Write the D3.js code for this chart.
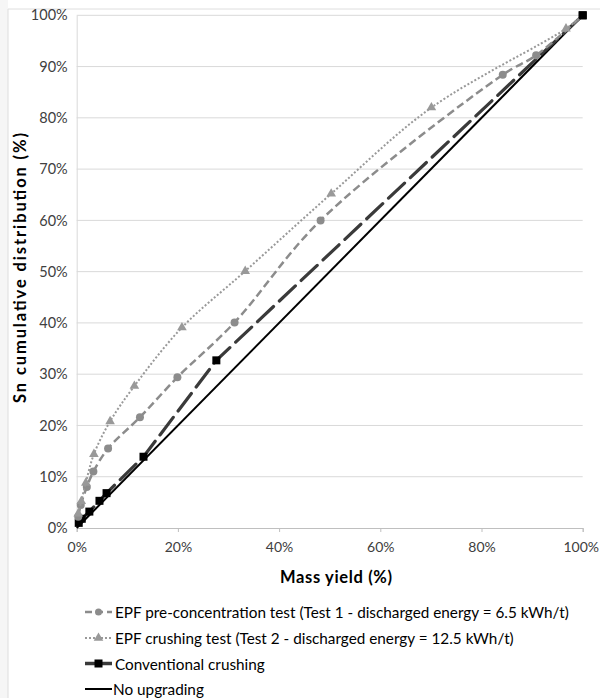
<!DOCTYPE html>
<html><head><meta charset="utf-8">
<script src="https://cdn.jsdelivr.net/npm/d3@7"></script>
<style>html,body{margin:0;padding:0;background:#fff;}svg{display:block;}</style>
</head><body>
<svg id="chart" width="600" height="698"></svg>
<script>
// ---- data (mass yield %, Sn cumulative distribution %) ----
const xTicks = [0, 20, 40, 60, 80, 100];
const yTicks = [0, 10, 20, 30, 40, 50, 60, 70, 80, 90, 100];
const preConcX = [0.3, 0.8, 2.0, 3.3, 6.2, 12.5, 19.9, 31.2, 48.2, 84.2, 90.8, 100];
const preConcY = [2.2, 4.5, 8.0, 11.0, 15.5, 21.6, 29.4, 40.1, 60.0, 88.4, 92.2, 100];
const crushX = [0.3, 0.9, 1.8, 3.4, 6.6, 11.4, 20.8, 33.3, 50.3, 70.1, 96.7, 100];
const crushY = [2.8, 5.2, 8.8, 14.4, 20.8, 27.7, 39.1, 50.1, 65.2, 82.0, 97.4, 100];
const convX = [0.4, 1.0, 2.5, 4.5, 5.9, 13.2, 27.6, 100];
const convY = [1.0, 1.8, 3.2, 5.3, 6.8, 13.9, 32.7, 100];
const noUpX = [0, 100];
const noUpY = [0, 100];
const seriesNames = [
  "EPF pre-concentration test (Test 1 - discharged energy = 6.5 kWh/t)",
  "EPF crushing test (Test 2 - discharged energy = 12.5 kWh/t)",
  "Conventional crushing",
  "No upgrading"
];
const xTitle = "Mass yield (%)";
const yTitle = "Sn cumulative distribution (%)";

const svg = d3.select("#chart");
const font = "Lato, 'Open Sans', sans-serif";
const pL = 76.7, pR = 582.7, pT = 15.3, pB = 528;
const x = d3.scaleLinear().domain([0, 100]).range([pL, pR]);
const y = d3.scaleLinear().domain([0, 100]).range([pB, pT]);

// frame
svg.append("rect").attr("x",0).attr("y",0).attr("width",600).attr("height",698).attr("fill","#fff");
svg.append("rect").attr("x",0).attr("y",0).attr("width",8).attr("height",698).attr("fill","#f6f6f6");
svg.append("line").attr("x1",8).attr("x2",8).attr("y1",9).attr("y2",698).attr("stroke","#dedede");
svg.append("line").attr("x1",8).attr("x2",600).attr("y1",9).attr("y2",9).attr("stroke","#dedede");

// gridlines
svg.append("g").selectAll("line").data(yTicks.filter(d=>d>0)).join("line")
  .attr("x1", pL).attr("x2", pR).attr("y1", d=>y(d)).attr("y2", d=>y(d))
  .attr("stroke", "#d9d9d9").attr("stroke-width", 1);

// axes
const xAxis = svg.append("g").attr("transform", `translate(0,${pB})`)
  .call(d3.axisBottom(x).tickValues(xTicks).tickSize(4).tickFormat(d=>d+"%"));
xAxis.select(".domain").attr("stroke","#bfbfbf");
xAxis.selectAll(".tick line").attr("stroke","#bfbfbf");
xAxis.selectAll("text").attr("font-family",font).attr("font-size",14).attr("fill","#404040").attr("dy","1.2em")
  .attr("dx", d => d === 100 ? -2 : 0);

const yAxis = svg.append("g").attr("transform", `translate(${pL},0)`)
  .call(d3.axisLeft(y).tickValues(yTicks).tickSize(0).tickPadding(9).tickFormat(d=>d+"%"));
yAxis.select(".domain").attr("stroke","#d9d9d9");
yAxis.selectAll("text").attr("font-family",font).attr("font-size",14.5).attr("fill","#404040");

// titles
svg.append("text").attr("x", 336).attr("y", 577).attr("text-anchor","middle").attr("dominant-baseline","central")
  .attr("font-family",font).attr("font-weight","bold").attr("font-size",16.5).attr("fill","#000")
  .attr("textLength",112).attr("lengthAdjust","spacing").text(xTitle);
svg.append("text").attr("transform", `translate(20,268) rotate(-90)`).attr("text-anchor","middle")
  .attr("dominant-baseline","central").attr("font-family",font).attr("font-weight","bold").attr("font-size",16.5)
  .attr("textLength",270).attr("lengthAdjust","spacing")
  .attr("fill","#000").text(yTitle);

const zip = (xs, ys) => xs.map((v,i)=>[v, ys[i]]);
const smooth = d3.line().x(d=>x(d[0])).y(d=>y(d[1])).curve(d3.curveCatmullRom.alpha(0.5));
const straight = d3.line().x(d=>x(d[0])).y(d=>y(d[1]));

// No upgrading
svg.append("path").attr("d", straight(zip(noUpX,noUpY))).attr("fill","none").attr("stroke","#000").attr("stroke-width",2);
// Conventional crushing
const conv = zip(convX, convY);
svg.append("path").attr("d", straight(conv)).attr("fill","none").attr("stroke","#3a3a3a").attr("stroke-width",3.2)
  .attr("stroke-dasharray","22,8").attr("stroke-linecap","round");
svg.append("g").selectAll("rect").data(conv).join("rect")
  .attr("x", d=>x(d[0])-4).attr("y", d=>y(d[1])-4).attr("width",8).attr("height",8).attr("fill","#000");
// EPF pre-concentration
const pre = zip(preConcX, preConcY);
svg.append("path").attr("d", smooth(pre)).attr("fill","none").attr("stroke","#8c8c8c").attr("stroke-width",2.5)
  .attr("stroke-dasharray","8,4");
svg.append("g").selectAll("circle").data(pre.slice(0,-1)).join("circle")
  .attr("cx", d=>x(d[0])).attr("cy", d=>y(d[1])).attr("r",4).attr("fill","#8c8c8c");
// EPF crushing
const cr = zip(crushX, crushY);
svg.append("path").attr("d", smooth(cr)).attr("fill","none").attr("stroke","#999").attr("stroke-width",2)
  .attr("stroke-dasharray","2,2");
const tri = d3.symbol().type(d3.symbolTriangle).size(40);
svg.append("g").selectAll("path").data(cr.slice(0,-1)).join("path")
  .attr("transform", d=>`translate(${x(d[0])},${y(d[1])})`).attr("d", tri).attr("fill","#999");
// redraw end square on top
svg.append("rect").attr("x", x(100)-4).attr("y", y(100)-4).attr("width",8).attr("height",8).attr("fill","#000");

// legend
const legY = [612, 638, 663.5, 689];
const lx0 = 85, lx1 = 112, tx = 115;
const lg = svg.append("g");
lg.append("line").attr("x1",lx0).attr("x2",lx1).attr("y1",legY[0]).attr("y2",legY[0]).attr("stroke","#8c8c8c").attr("stroke-width",2.5).attr("stroke-dasharray","7,4");
lg.append("circle").attr("cx",(lx0+lx1)/2).attr("cy",legY[0]).attr("r",3.5).attr("fill","#8c8c8c");
lg.append("line").attr("x1",lx0).attr("x2",lx1).attr("y1",legY[1]).attr("y2",legY[1]).attr("stroke","#999").attr("stroke-width",2).attr("stroke-dasharray","2,2");
lg.append("path").attr("transform",`translate(${(lx0+lx1)/2},${legY[1]})`).attr("d",tri).attr("fill","#999");
lg.append("line").attr("x1",lx0).attr("x2",lx1).attr("y1",legY[2]).attr("y2",legY[2]).attr("stroke","#3a3a3a").attr("stroke-width",3.5);
lg.append("rect").attr("x",(lx0+lx1)/2-4).attr("y",legY[2]-4).attr("width",8).attr("height",8).attr("fill","#000");
lg.append("line").attr("x1",lx0).attr("x2",lx1).attr("y1",legY[3]).attr("y2",legY[3]).attr("stroke","#000").attr("stroke-width",2);
lg.selectAll("text").data(seriesNames).join("text")
  .attr("x", (d,i)=> i===3 ? lx1+1 : tx).attr("y",(d,i)=>legY[i]).attr("dominant-baseline","central")
  .attr("font-family",font).attr("font-size",15.3).attr("fill","#000").text(d=>d);
</script>
</body></html>
